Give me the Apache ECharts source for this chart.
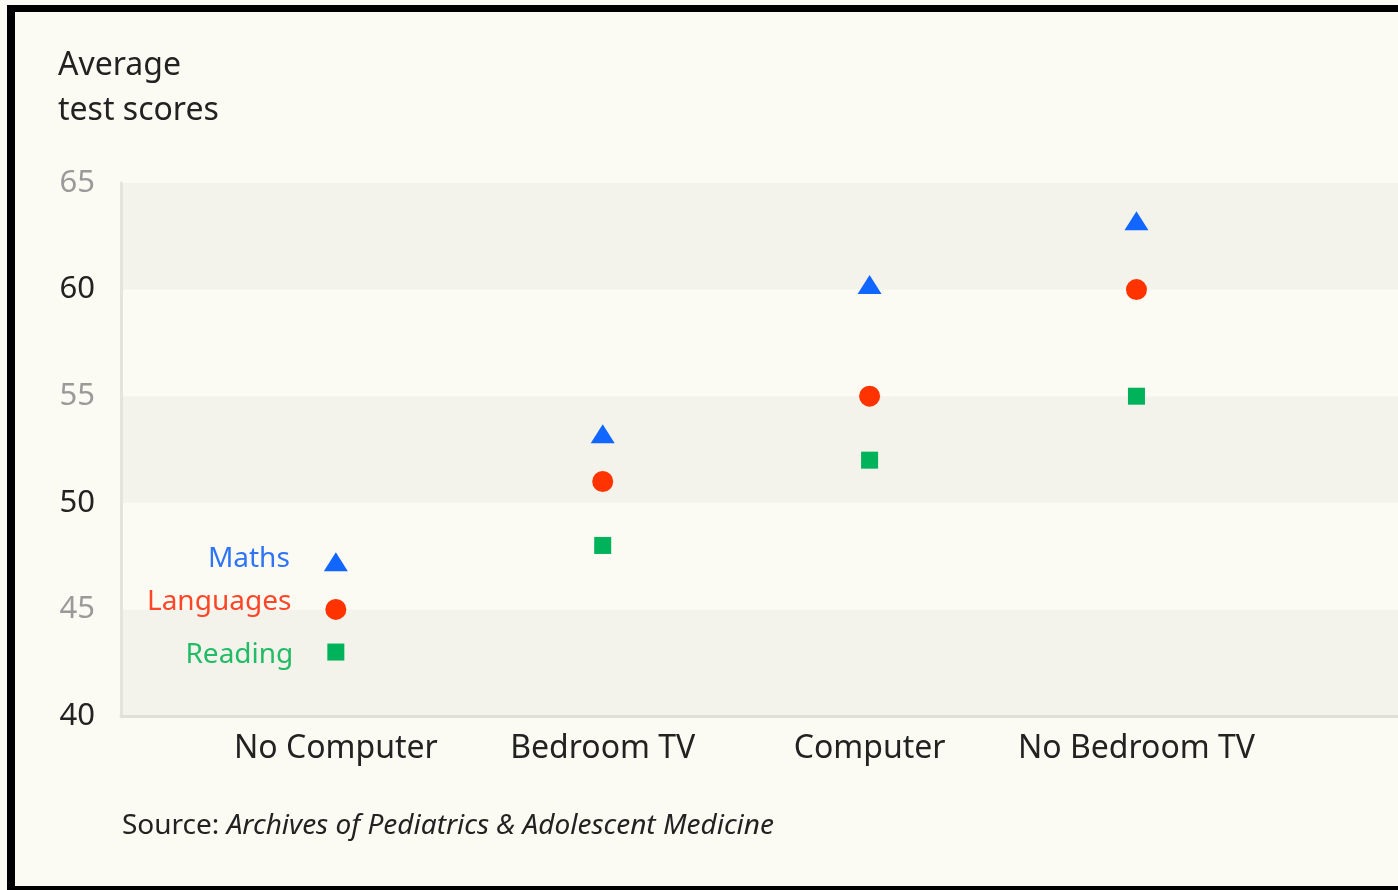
<!DOCTYPE html>
<html>
<head>
<meta charset="utf-8">
<script src="https://cdn.jsdelivr.net/npm/echarts@6/dist/echarts.min.js"></script>
<style>
  html, body { margin: 0; padding: 0; background: #fbfbf3; }
  #chart { width: 1398px; height: 890px; }
</style>
</head>
<body>
<div id="chart"></div>
<script>
const categories = ["No Computer", "Bedroom TV", "Computer", "No Bedroom TV"]
const maths = [47, 53, 60, 63]
const languages = [45, 51, 55, 60]
const reading = [43, 48, 52, 55]
const yTicks = [40, 45, 50, 55, 60, 65]

const font = "Noto Sans"
const toPoints = arr => arr.map((v, i) => [i, v])

function legendLabel(text, color, dy) {
    return {
        show: true,
        position: "left",
        distance: 34,
        offset: [0, dy],
        formatter: p => (p.dataIndex === 0 ? text : ""),
        color: color,
        fontFamily: font,
        fontSize: 28
    }
}

const chart = echarts.init(document.getElementById("chart"))
chart.setOption({
    backgroundColor: "#fbfbf3",
    animation: false,
    grid: { left: 121, top: 183, right: 0, bottom: 174 },
    xAxis: {
        type: "value",
        min: -0.805,
        max: 3.98,
        splitLine: { show: false },
        axisLine: { show: true, onZero: false, lineStyle: { color: "#e0e0d8", width: 3 } },
        axisTick: { show: false },
        axisLabel: {
            customValues: [0, 1, 2, 3],
            formatter: v => categories[Math.round(v)],
            color: "#222",
            fontFamily: font,
            fontSize: 32,
            margin: 17
        }
    },
    yAxis: {
        type: "value",
        min: yTicks[0],
        max: yTicks[yTicks.length - 1],
        interval: 5,
        splitLine: { show: false },
        splitArea: { show: true, areaStyle: { color: ["#f3f3ec", "#fbfbf3"] } },
        axisLine: { show: true, onZero: false, lineStyle: { color: "#e4e4dc", width: 3 } },
        axisTick: { show: false },
        axisLabel: {
            margin: 26,
            fontFamily: font,
            fontSize: 31,
            color: v => (v % 10 === 0 ? "#222" : "#9a9a9a")
        }
    },
    series: [
        {
            name: "Maths",
            type: "scatter",
            symbol: "triangle",
            symbolSize: [24, 19],
            symbolOffset: [0, -5],
            itemStyle: { color: "#1166ff", opacity: 1 },
            label: legendLabel("Maths", "#2f74f6", -3),
            data: toPoints(maths)
        },
        {
            name: "Languages",
            type: "scatter",
            symbol: "circle",
            symbolSize: 21,
            itemStyle: { color: "#ff3300", opacity: 1 },
            label: legendLabel("Languages", "#ff4628", -7),
            data: toPoints(languages)
        },
        {
            name: "Reading",
            type: "scatter",
            symbol: "rect",
            symbolSize: 17,
            itemStyle: { color: "#00b25a", opacity: 1 },
            label: legendLabel("Reading", "#22bb66", 3),
            data: toPoints(reading)
        }
    ],
    graphic: [
        { type: "rect", left: 7, top: 5, shape: { width: 8, height: 885 }, style: { fill: "#000" } },
        { type: "rect", left: 7, top: 5, shape: { width: 1391, height: 7 }, style: { fill: "#000" } },
        { type: "rect", left: 7, top: 886, shape: { width: 1391, height: 4 }, style: { fill: "#000" } },
        {
            type: "text", x: 58, y: 88,
            style: {
                text: "Average\ntest scores",
                fill: "#222",
                font: "32px 'Noto Sans'",
                lineHeight: 45,
                verticalAlign: "middle"
            }
        },
        {
            type: "text", x: 122, y: 826,
            style: {
                text: "{n|Source: }{i|Archives of Pediatrics & Adolescent Medicine}",
                verticalAlign: "middle",
                rich: {
                    n: { fill: "#222", fontFamily: font, fontSize: 28 },
                    i: { fill: "#222", fontFamily: font, fontSize: 28, fontStyle: "italic" }
                }
            }
        }
    ]
})
</script>
</body>
</html>
